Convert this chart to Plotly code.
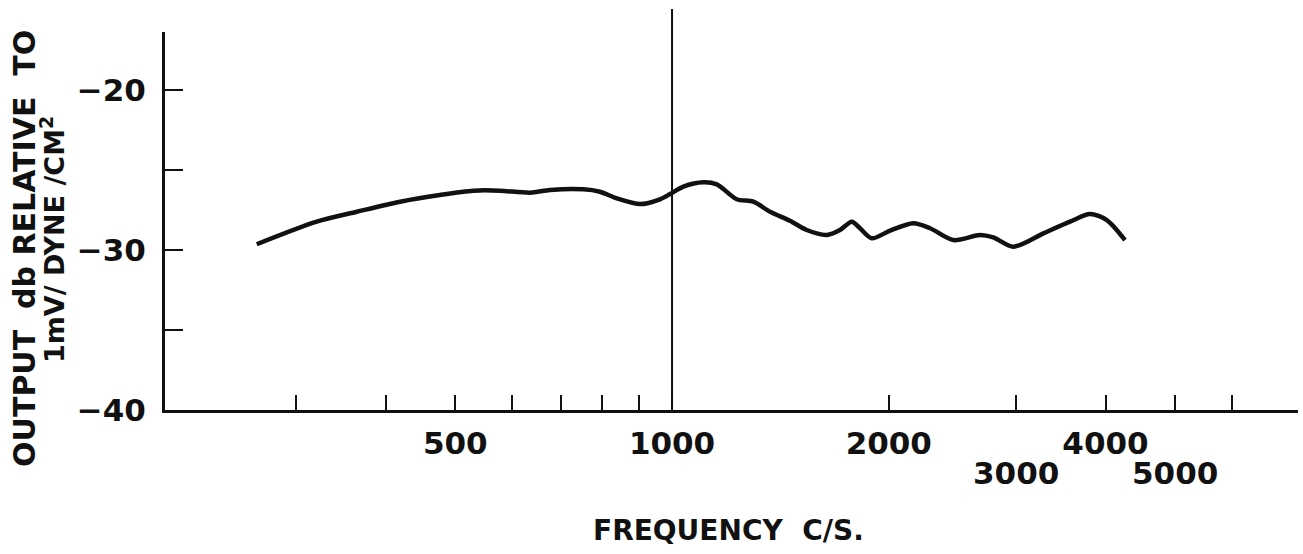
import math
import plotly.graph_objects as go

# Frequency response of the microphone output
freq_hz = [265, 321, 365, 419, 476, 530, 577, 635, 677, 753, 794, 838, 903, 962,
           994, 1037, 1105, 1154, 1230, 1297, 1368, 1458, 1538, 1640, 1711, 1777,
           1824, 1894, 2009, 2163, 2282, 2459, 2678, 2794, 2979, 3279, 3571, 3807,
           4016, 4257]
output_db = [-29.64, -28.23, -27.61, -26.98, -26.56, -26.29, -26.29, -26.42, -26.25,
             -26.21, -26.36, -26.77, -27.13, -26.83, -26.50, -26.04, -25.77, -25.90,
             -26.83, -26.98, -27.61, -28.17, -28.75, -29.06, -28.75, -28.23, -28.64,
             -29.27, -28.79, -28.33, -28.64, -29.38, -29.06, -29.21, -29.79, -28.96,
             -28.23, -27.75, -28.13, -29.38]

# Axis ticks and labels
x_tick_vals = [300, 400, 500, 600, 700, 800, 900, 1000, 2000, 3000, 4000, 5000, 6000]
x_tick_text = ["", "", "500", "", "", "", "", "1000", "2000", "", "4000", "", ""]
x_lower_labels = [3000, 5000]
reference_freq = 1000
y_tick_vals = [-40, -35, -30, -25, -20]
y_tick_text = ["\u221240", "", "\u221230", "", "\u221220"]

INK = "#111111"
FONT = "DejaVu Sans"

fig = go.Figure()
fig.add_trace(go.Scatter(
    x=freq_hz, y=output_db, mode="lines",
    line=dict(color=INK, width=4.5, shape="spline", smoothing=0.8),
    hoverinfo="skip", showlegend=False,
))

# vertical reference line at 1000 c/s, rising above the frame
fig.add_shape(type="line", xref="x", yref="paper",
              x0=reference_freq, x1=reference_freq, y0=0, y1=1.061,
              line=dict(color=INK, width=2))

# second row of frequency labels
for f in x_lower_labels:
    fig.add_annotation(x=math.log10(f), y=-0.167, xref="x", yref="paper",
                       text=str(f), showarrow=False, xanchor="center", yanchor="middle",
                       font=dict(family=FONT, size=31, color=INK, weight="bold"))

# axis titles
fig.add_annotation(x=0.497, y=-0.3175, xref="paper", yref="paper",
                   text="FREQUENCY\u00a0\u00a0C/S.", showarrow=False,
                   xanchor="center", yanchor="middle",
                   font=dict(family=FONT, size=28, color=INK, weight="bold"))
fig.add_annotation(x=-0.1236, y=0.4286, xref="paper", yref="paper",
                   text="OUTPUT\u00a0\u00a0db RELATIVE\u00a0\u00a0TO", showarrow=False,
                   textangle=-90, xanchor="center", yanchor="middle",
                   font=dict(family=FONT, size=30, color=INK, weight="bold"))
fig.add_annotation(x=-0.0997, y=0.4497, xref="paper", yref="paper",
                   text="1mV/ DYNE /CM<sup>2</sup>", showarrow=False,
                   textangle=-90, xanchor="center", yanchor="middle",
                   font=dict(family=FONT, size=27, color=INK, weight="bold"))

fig.update_layout(
    width=1303, height=554, autosize=False,
    margin=dict(l=165, r=5, t=32, b=144),
    paper_bgcolor="white", plot_bgcolor="white",
    showlegend=False,
    xaxis=dict(type="log", range=[2.2958, 3.8694],
               tickmode="array", tickvals=x_tick_vals, ticktext=x_tick_text,
               ticks="inside", ticklen=15, tickwidth=2, tickcolor=INK,
               showline=True, linewidth=3, linecolor=INK,
               showgrid=False, zeroline=False, ticklabelstandoff=4,
               tickfont=dict(family=FONT, size=31, color=INK, weight="bold")),
    yaxis=dict(range=[-40, -16.375],
               tickmode="array", tickvals=y_tick_vals, ticktext=y_tick_text,
               ticks="inside", ticklen=18, tickwidth=2, tickcolor=INK,
               showline=True, linewidth=3, linecolor=INK,
               showgrid=False, zeroline=False, ticklabelstandoff=10,
               tickfont=dict(family=FONT, size=31, color=INK, weight="bold")),
)

fig.write_html("out.html")
